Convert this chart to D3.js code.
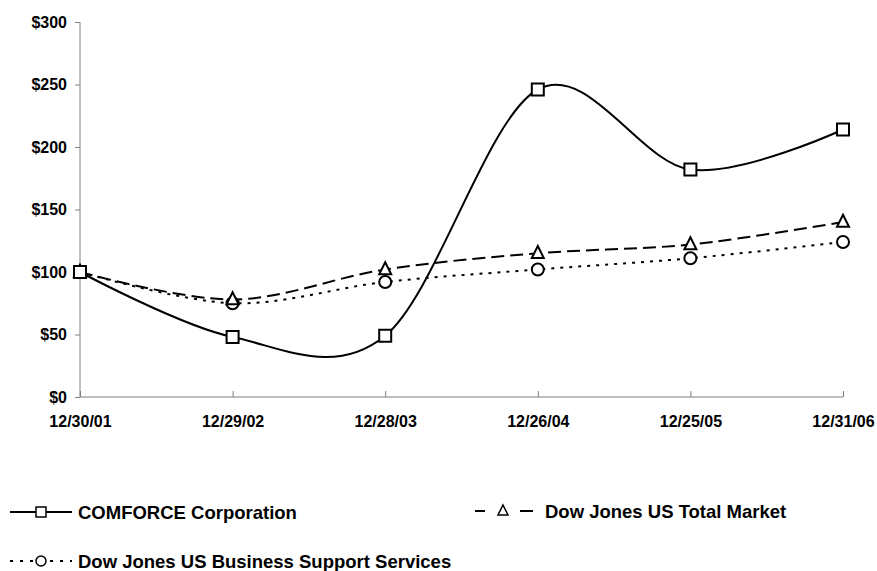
<!DOCTYPE html>
<html>
<head>
<meta charset="utf-8">
<script src="https://cdn.jsdelivr.net/npm/d3@7"></script>
<style>
  body { margin: 0; background: #fff; }
  text { font-family: "Liberation Sans", Arial, sans-serif; font-weight: bold; fill: #000; }
</style>
</head>
<body>
<div id="chart"></div>
<script>
// performance graph: COMFORCE vs Dow Jones indexes
// ================================================

var dates = ["12/30/01", "12/29/02", "12/28/03", "12/26/04", "12/25/05", "12/31/06"];
var comforce = [100, 48, 49, 246, 182, 214];
var totalMarket = [100, 78, 102, 115, 122, 140];
var bizSupport = [100, 75, 92, 102, 111, 124];
var yTicks = [0, 50, 100, 150, 200, 250, 300];

var width = 877,
    height = 571;

var svg = d3.select("#chart").append("svg")
    .attr("width", width)
    .attr("height", height);

var x = d3.scalePoint()
    .domain(dates)
    .range([80, 843]);

var y = d3.scaleLinear()
    .domain([0, 300])
    .range([397, 22]);

// y axis
var yAxis = svg.append("g")
    .attr("transform", "translate(80,0)")
    .call(d3.axisLeft(y).tickValues(yTicks).tickSize(5).tickPadding(8)
        .tickFormat(function(d) { return "$" + d; }));
yAxis.selectAll("line").attr("stroke", "#808080");
yAxis.select(".domain").attr("stroke", "#808080").attr("d", "M0,22V397");
yAxis.selectAll("text").style("font-size", "16px");

// x axis (ticks point inward)
var xAxis = svg.append("g")
    .attr("transform", "translate(0,397)")
    .call(d3.axisBottom(x).tickSize(-6).tickPadding(0));
xAxis.selectAll("line").attr("stroke", "#808080");
xAxis.select(".domain").attr("stroke", "#808080").attr("d", "M80,0H843");
xAxis.selectAll("text").style("font-size", "16px").attr("y", 30).attr("dy", 0);

var series = [
    { name: "COMFORCE Corporation", values: comforce, dash: null, marker: "square" },
    { name: "Dow Jones US Total Market", values: totalMarket, dash: "13,6", marker: "triangle" },
    { name: "Dow Jones US Business Support Services", values: bizSupport, dash: "3,6", marker: "circle" }
];

var line = d3.line()
    .x(function(d, i) { return x(dates[i]); })
    .y(function(d) { return y(d); })
    .curve(d3.curveCardinal.tension(0));   // excel style smoothing

function drawMarker(g, type, cx, cy, s) {
    if (type == "square") {
        g.append("rect").attr("x", cx - s/2).attr("y", cy - s/2)
            .attr("width", s).attr("height", s);
    } else if (type == "triangle") {
        g.append("path").attr("d", "M" + cx + "," + (cy - s*0.6) + "L" + (cx + s/2) + "," + (cy + s*0.4) + "L" + (cx - s/2) + "," + (cy + s*0.4) + "Z");
    } else {
        g.append("circle").attr("cx", cx).attr("cy", cy).attr("r", s/2);
    }
}

// draw lines, bottom series last so markers overlay
series.slice().reverse().forEach(function(s) {
    svg.append("path")
        .attr("d", line(s.values))
        .attr("fill", "none")
        .attr("stroke", "#000")
        .attr("stroke-width", 2)
        .attr("stroke-dasharray", s.dash);
});

series.slice().reverse().forEach(function(s) {
    var g = svg.append("g").attr("fill", "#fff").attr("stroke", "#000").attr("stroke-width", 2);
    s.values.forEach(function(v, i) {
        drawMarker(g, s.marker, x(dates[i]), y(v), 12);
    });
});

// legend
var legendPos = [[10, 512], [475, 511], [10, 561]];
var legendDash = [null, "10,35,13", "3,7"];
var legendText = [68, 70, 68];
series.forEach(function(s, i) {
    var lx = legendPos[i][0], ly = legendPos[i][1];
    var g = svg.append("g");
    g.append("line")
        .attr("x1", lx).attr("x2", lx + (i == 1 ? 58 : 62))
        .attr("y1", ly).attr("y2", ly)
        .attr("stroke", "#000").attr("stroke-width", 2)
        .attr("stroke-dasharray", legendDash[i]);
    var mg = g.append("g").attr("fill", "#fff").attr("stroke", "#000").attr("stroke-width", 1.5);
    drawMarker(mg, s.marker, lx + (i == 1 ? 28 : 31), ly, 10);
    g.append("text")
        .attr("x", lx + legendText[i])
        .attr("y", ly + 7)
        .style("font-size", "18.5px")
        .text(s.name);
});
</script>
</body>
</html>
